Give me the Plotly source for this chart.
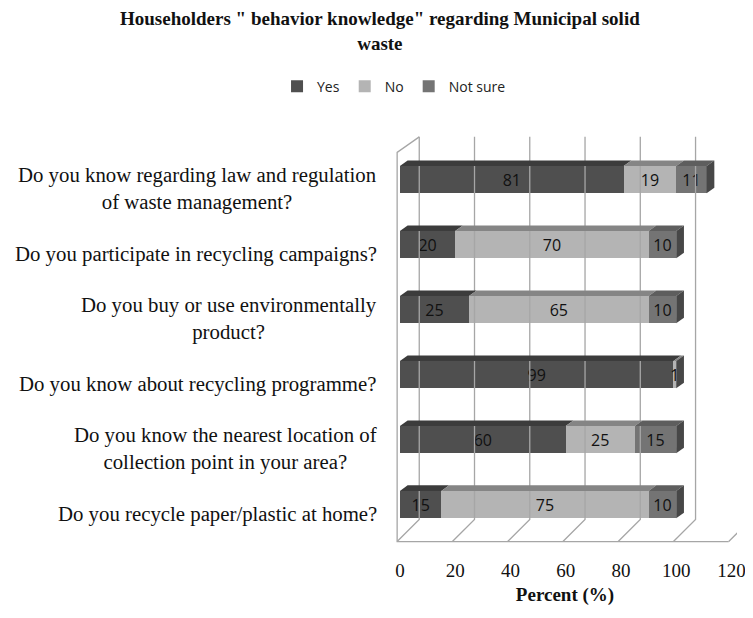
import plotly.graph_objects as go

# --------------------------------------------------------------------------
# DATA
# --------------------------------------------------------------------------
questions = [
    "Do you know regarding law and regulation<br>of waste management?",
    "Do you participate in recycling campaigns?",
    "Do you buy or use environmentally<br>product?",
    "Do you know about recycling programme?",
    "Do you know the nearest location of<br>collection point in your area?",
    "Do you recycle paper/plastic at home?",
]
yes_vals = [81, 20, 25, 99, 60, 15]
no_vals = [19, 70, 65, 1, 25, 75]
not_sure_vals = [11, 10, 10, 0, 15, 10]
x_ticks = [0, 20, 40, 60, 80, 100, 120]

# --------------------------------------------------------------------------
# STYLE
# --------------------------------------------------------------------------
SERIES = [
    ("Yes", yes_vals, "#4f4f4f", "#3c3c3c"),
    ("No", no_vals, "#b4b4b4", "#858585"),
    ("Not sure", not_sure_vals, "#747474", "#5e5e5e"),
]
SIDE_COLOR = "#474747"
GRID = "#a6a6a6"
SERIF = "Liberation Serif, Times New Roman, serif"
SANS = "Open Sans, Noto Sans, sans-serif"

BAR_W = 0.42
DEPTH_X, DEPTH_Y = 2.8, 0.085       # 3d depth of bars (data units)
WALL_X = 8.0                        # back wall offset from floor front edge
FLOOR_FRONT, FLOOR_BACK = 5.57, 5.23
WALL_TOP_BACK, WALL_TOP_FRONT = -0.66, -0.42
FRONT_X0 = -1.0

rows = list(range(len(questions)))

fig = go.Figure()

# back wall grid + floor
for t in x_ticks:
    xb = t + FRONT_X0 + WALL_X
    fig.add_trace(go.Scatter(
        x=[xb, xb, t + FRONT_X0], y=[WALL_TOP_BACK, FLOOR_BACK, FLOOR_FRONT],
        mode="lines", line=dict(color=GRID, width=1.3),
        showlegend=False, hoverinfo="skip"))
fig.add_trace(go.Scatter(
    x=[FRONT_X0 + WALL_X, FRONT_X0, FRONT_X0, 120 + FRONT_X0],
    y=[WALL_TOP_BACK, WALL_TOP_FRONT, FLOOR_FRONT, FLOOR_FRONT],
    mode="lines", line=dict(color=GRID, width=1.3),
    showlegend=False, hoverinfo="skip"))

# front faces of the bars
for name, vals, col, _ in SERIES:
    fig.add_trace(go.Bar(
        name=name, y=rows, x=vals, orientation="h", width=BAR_W,
        marker=dict(color=col, line=dict(width=0)),
        text=[str(v) for v in vals], textposition="inside", textangle=0,
        insidetextanchor="middle",
        textfont=dict(family=SANS, size=16, color="#111111"),
        hoverinfo="skip"))

# top faces and right side of each bar
totals = [0] * len(rows)
for name, vals, col, top_col in SERIES:
    for i in rows:
        x0, x1 = totals[i], totals[i] + vals[i]
        yt = i - BAR_W / 2
        if vals[i] > 0:
            fig.add_trace(go.Scatter(
                x=[x0, x1, x1 + DEPTH_X, x0 + DEPTH_X, x0],
                y=[yt, yt, yt - DEPTH_Y, yt - DEPTH_Y, yt],
                mode="lines", fill="toself", fillcolor=top_col,
                line=dict(width=0), showlegend=False, hoverinfo="skip"))
        totals[i] = x1
for i in rows:
    xe = totals[i]
    yt, yb = i - BAR_W / 2, i + BAR_W / 2
    fig.add_trace(go.Scatter(
        x=[xe, xe + DEPTH_X, xe + DEPTH_X, xe, xe],
        y=[yt, yt - DEPTH_Y, yb - DEPTH_Y, yb, yt],
        mode="lines", fill="toself", fillcolor=SIDE_COLOR,
        line=dict(width=0), showlegend=False, hoverinfo="skip"))

# question labels (centered multi-line, right aligned block)
for i, q in zip(rows, questions):
    fig.add_annotation(
        x=-0.040, xref="paper", y=i, yref="y", yshift=-9, text=q,
        xanchor="right", align="center", showarrow=False,
        font=dict(family=SERIF, size=20.8, color="#111111"))

# title
fig.add_annotation(
    text="<b>Householders \" behavior knowledge\" regarding Municipal solid<br>waste</b>",
    x=-0.037, xref="paper", xanchor="center", y=1.238, yref="paper", yanchor="middle",
    showarrow=False, align="center",
    font=dict(family=SERIF, size=19, color="#111111"))

# page body keeps an 8px margin, so the figure is sized to the visible area
fig.update_layout(
    barmode="stack",
    bargap=0.58,
    width=745, height=610,
    margin=dict(l=385, r=7, t=123, b=68),
    paper_bgcolor="white", plot_bgcolor="white",
    showlegend=True,
    legend=dict(orientation="h", x=0.003, xanchor="center", y=1.106, yanchor="middle",
                font=dict(family=SANS, size=14, color="#222222"),
                itemwidth=30, traceorder="normal"),
    uniformtext=dict(minsize=16, mode="show"),
    xaxis=dict(range=[-2.5, 122], tickvals=x_ticks, showgrid=False, zeroline=False,
               showline=False, ticks="", ticklabelstandoff=7,
               ticklabeloverflow="allow",
               tickfont=dict(family=SERIF, size=19, color="#111111"),
               title=dict(text="<b>Percent (%)</b>", standoff=7,
                          font=dict(family=SERIF, size=19, color="#111111"))),
    yaxis=dict(range=[5.7, -0.75], showgrid=False, zeroline=False,
               showticklabels=False, showline=False, ticks=""),
)

fig.write_html("out.html")
